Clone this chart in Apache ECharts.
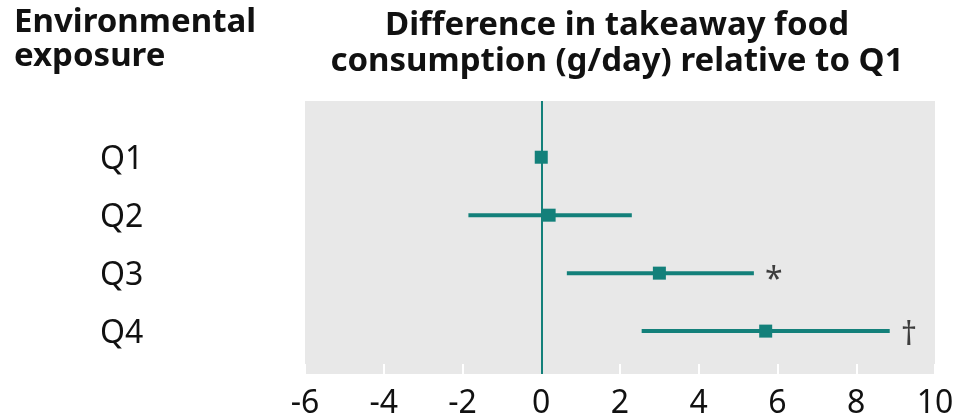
<!DOCTYPE html>
<html>
<head>
<meta charset="utf-8">
<script src="https://cdn.jsdelivr.net/npm/echarts@6/dist/echarts.min.js"></script>
<style>
  html, body { margin: 0; padding: 0; background: #fff; }
  #chart { width: 959px; height: 417px; }
</style>
</head>
<body>
<div id="chart"></div>
<script>
const categories = ['Q1', 'Q2', 'Q3', 'Q4']
const estimates = [0, 0.2, 3.0, 5.7]
const lowerCI = [0, -1.85, 0.65, 2.55]
const upperCI = [0, 2.3, 5.4, 8.85]
const annotations = ['', '', '*', '†']
const xTicks = [-6, -4, -2, 0, 2, 4, 6, 8, 10]

const teal = '#13807a'
const font = 'Noto Sans'

// category i sits at y = i + 1 on a value axis
const rows = categories.map((c, i) => i + 1)

const chart = echarts.init(document.getElementById('chart'))

chart.setOption({
  animation: false,
  textStyle: { fontFamily: font },
  graphic: [
    {
      type: 'text', left: 14, top: 6,
      style: { text: 'Environmental\nexposure', font: 'bold 33px "Noto Sans"', lineHeight: 34, fill: '#111' }
    },
    {
      type: 'text', x: 617, y: 8,
      style: {
        text: 'Difference in takeaway food\nconsumption (g/day) relative to Q1',
        font: 'bold 33px "Noto Sans"', lineHeight: 36, fill: '#111', align: 'center'
      }
    }
  ],
  grid: {
    left: 305, right: 24, top: 101, bottom: 43,
    outerBoundsMode: 'none',
    show: true, backgroundColor: '#e8e8e8', borderWidth: 0
  },
  xAxis: {
    type: 'value',
    min: xTicks[0],
    max: xTicks[xTicks.length - 1],
    interval: 2,
    axisLine: { show: false },
    splitLine: { show: false },
    axisTick: { show: true, inside: true, length: 10, lineStyle: { color: '#fff', width: 2 } },
    axisLabel: { fontSize: 32, color: '#111', margin: 14, fontFamily: font }
  },
  yAxis: {
    type: 'value',
    inverse: true,
    min: 0.03,
    max: 4.74,
    axisLine: { show: false },
    axisTick: { show: false },
    splitLine: { show: false },
    axisLabel: {
      customValues: rows,
      formatter: v => '{q|' + (categories[Math.round(v) - 1] || '') + '}',
      align: 'left',
      margin: 205,
      color: '#111',
      rich: {
        q: { fontSize: 32, fontFamily: font, color: '#111', padding: [6, 0, 0, 0] }
      }
    }
  },
  series: [
    {
      type: 'custom',
      name: 'ci',
      data: categories.map((c, i) => [lowerCI[i], upperCI[i], rows[i]]),
      renderItem: (params, api) => {
        const a = api.coord([api.value(0), api.value(2)])
        const b = api.coord([api.value(1), api.value(2)])
        return {
          type: 'line',
          shape: { x1: a[0], y1: a[1], x2: b[0], y2: b[1] },
          style: { stroke: teal, lineWidth: 4 }
        }
      },
      markLine: {
        silent: true,
        symbol: 'none',
        label: { show: false },
        lineStyle: { color: teal, width: 2, type: 'solid' },
        data: [{ xAxis: 0 }]
      },
      z: 2
    },
    {
      type: 'scatter',
      name: 'estimate',
      symbol: 'rect',
      symbolSize: 13,
      itemStyle: { color: teal, opacity: 1 },
      data: categories.map((c, i) => [estimates[i], rows[i]]),
      z: 3
    },
    {
      type: 'scatter',
      name: 'annotation',
      symbolSize: 0,
      silent: true,
      data: categories.map((c, i) => [upperCI[i], rows[i], annotations[i]]),
      label: {
        show: true,
        position: 'right',
        distance: 11,
        formatter: p => p.data[2],
        fontSize: 32,
        color: '#111',
        fontFamily: font
      },
      labelLayout: p => p.text === '*' ? { dy: 8 } : { dy: 5 },
      z: 4
    }
  ]
})
</script>
</body>
</html>
